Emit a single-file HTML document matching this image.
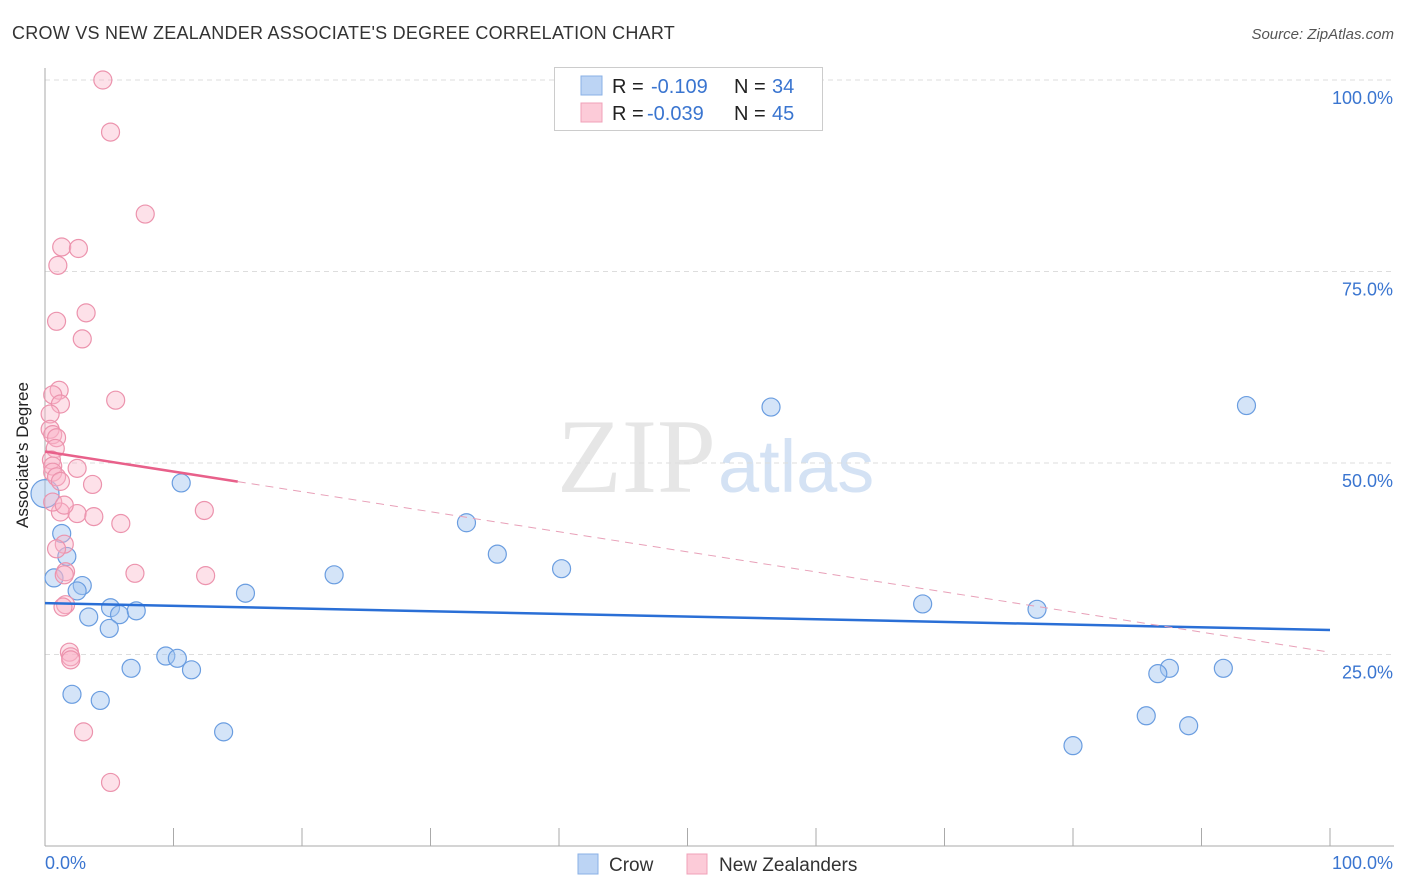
<!DOCTYPE html>
<html><head><meta charset="utf-8"><style>
body{margin:0;background:#fff;font-family:"Liberation Sans",sans-serif;}
svg{display:block}
</style></head><body>
<svg id="chart" width="1406" height="892">
<text x="12" y="39" font-size="18" fill="#333" letter-spacing="0.25">CROW VS NEW ZEALANDER ASSOCIATE'S DEGREE CORRELATION CHART</text>
<text x="1394" y="39" font-size="15" fill="#555" font-style="italic" text-anchor="end">Source: ZipAtlas.com</text>
<text x="716" y="492" font-size="106" fill="#e6e6e6" font-family="Liberation Serif,serif" text-anchor="end">ZIP</text>
<text x="718" y="492" font-size="74" fill="#d4e2f4">atlas</text>
<g id="grid"></g>
<line x1="45" y1="68" x2="45" y2="846" stroke="#aaa"/>
<line x1="45" y1="846" x2="1394" y2="846" stroke="#aaa"/>
<text x="28" y="455" font-size="17" fill="#222" text-anchor="middle" transform="rotate(-90 28 455)">Associate's Degree</text>
<text x="45" y="869" font-size="18" fill="#3a75d0">0.0%</text>
<text x="1393" y="869" font-size="18" fill="#3a75d0" text-anchor="end">100.0%</text>
<g id="marks"></g>
<g>
<rect x="554.5" y="67.5" width="268" height="63" fill="#fff" stroke="#ccc"/>
<rect x="581" y="76" width="21" height="19" fill="#bcd4f4" stroke="#8ab0e6"/>
<rect x="581" y="103" width="21" height="19" fill="#fccbd8" stroke="#f0a0b8"/>
<text x="612" y="93" font-size="20" fill="#222">R = </text><text x="651" y="93" font-size="20" fill="#3a75d0">-0.109</text>
<text x="734" y="93" font-size="20" fill="#222">N = </text><text x="772" y="93" font-size="20" fill="#3a75d0">34</text>
<text x="612" y="120" font-size="20" fill="#222">R = </text><text x="647" y="120" font-size="20" fill="#3a75d0">-0.039</text>
<text x="734" y="120" font-size="20" fill="#222">N = </text><text x="772" y="120" font-size="20" fill="#3a75d0">45</text>
</g>
<g>
<rect x="578" y="854" width="20" height="20" fill="#bcd4f4" stroke="#8ab0e6"/>
<text x="609" y="871" font-size="19" fill="#333">Crow</text>
<rect x="687" y="854" width="20" height="20" fill="#fccbd8" stroke="#f0a0b8"/>
<text x="719" y="871" font-size="19" fill="#333">New Zealanders</text>
</g>
</svg>
<script>
const yTicks=[25,50,75,100];
const yTickLabels=["25.0%","50.0%","75.0%","100.0%"];
const xTicks=[0,10,20,30,40,50,60,70,80,90,100];
const crowX=[0,10.6,1.3,1.7,0.7,2.9,2.5,5.1,3.4,5.8,7.1,5.0,6.7,9.4,10.3,11.4,15.6,2.1,4.3,13.9,22.5,32.8,35.2,40.2,56.5,93.5,68.3,77.2,87.5,86.6,91.7,85.7,89.0,80.0];
const crowY=[46.0,47.4,40.8,37.8,35.0,34.0,33.3,31.1,29.9,30.2,30.7,28.4,23.2,24.8,24.5,23.0,33.0,19.8,19.0,14.9,35.4,42.2,38.1,36.2,57.3,57.5,31.6,30.9,23.2,22.5,23.2,17.0,15.7,13.1];
const nzX=[4.5,5.1,7.8,1.3,2.6,1.0,0.9,3.2,2.9,1.1,0.6,1.2,5.5,0.4,0.4,0.6,0.9,0.8,0.5,0.6,0.6,2.5,3.7,0.9,1.2,1.2,2.5,0.6,3.8,5.9,12.4,1.5,0.9,1.6,1.5,7.0,12.5,1.6,1.4,1.9,2.0,2.0,3.0,5.1,1.5];
const nzY=[100,93.2,82.5,78.2,78.0,75.8,68.5,69.6,66.2,59.5,58.9,57.7,58.2,56.4,54.4,53.7,53.3,51.9,50.4,49.6,48.8,49.3,47.2,48.2,47.6,43.6,43.4,44.9,43.0,42.1,43.8,39.4,38.8,35.8,35.4,35.6,35.3,31.5,31.2,25.3,24.7,24.3,14.9,8.3,44.5];
const crowTrend=[31.7,28.2];
const nzTrend=[51.5,25.3];
const nzSolidEnd=15;
const X=v=>45+v*12.85, Y=v=>846-v*7.66;
const NS='http://www.w3.org/2000/svg';
const grid=document.getElementById('grid'), marks=document.getElementById('marks');
function mk(tag,attrs,parent){const e=document.createElementNS(NS,tag);for(const k in attrs)e.setAttribute(k,attrs[k]);parent.appendChild(e);return e;}
yTicks.forEach((t,i)=>{
 const l=mk('line',{x1:45,x2:1394,y1:Y(t),y2:Y(t),stroke:'#ddd','stroke-dasharray':'5,4'},grid);
 
 
 const tx=mk('text',{x:1393,y:Y(t)+24,'font-size':18,fill:'#3a75d0','text-anchor':'end'},grid);
 tx.textContent=yTickLabels[i];
 
 
});
xTicks.forEach(t=>{
 const l=mk('line',{x1:X(t),x2:X(t),y1:828,y2:846,stroke:'#aaa'},grid);
 
 
});
crowX.forEach((x,i)=>{
 const c=mk('circle',{cx:X(x),cy:Y(crowY[i]),r:i===0?14:9,fill:'rgba(160,195,240,0.45)',stroke:'#6a9de0','stroke-width':1.2},marks);
 
 
});
nzX.forEach((x,i)=>{
 const c=mk('circle',{cx:X(x),cy:Y(nzY[i]),r:9,fill:'rgba(250,180,200,0.4)',stroke:'#ec93ad','stroke-width':1.2},marks);
 
 
});
const l1=mk('line',{x1:X(0),y1:Y(crowTrend[0]),x2:X(100),y2:Y(crowTrend[1]),stroke:'#2a6fd6','stroke-width':2.5},marks);


const nzAt=x=>nzTrend[0]+(nzTrend[1]-nzTrend[0])*x/100;
const l2=mk('line',{x1:X(0),y1:Y(nzTrend[0]),x2:X(nzSolidEnd),y2:Y(nzAt(nzSolidEnd)),stroke:'#e8608a','stroke-width':2.5},marks);


const l3=mk('line',{x1:X(nzSolidEnd),y1:Y(nzAt(nzSolidEnd)),x2:X(100),y2:Y(nzTrend[1]),stroke:'#e8a0b8','stroke-width':1,'stroke-dasharray':'8,6'},marks);


</script>
</body></html>
